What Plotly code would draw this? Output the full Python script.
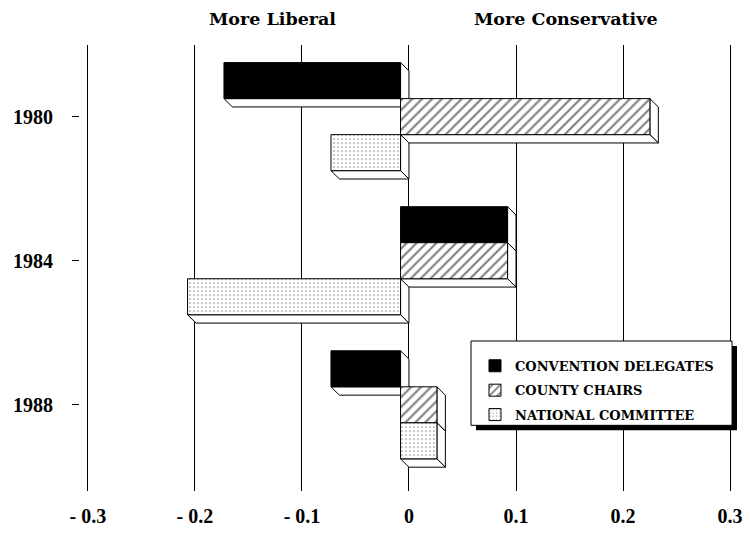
import plotly.graph_objects as go

# ---------------- data ----------------
years = ["1980", "1984", "1988"]
series_names = ["CONVENTION DELEGATES", "COUNTY CHAIRS", "NATIONAL COMMITTEE"]
conv_delegates = [-0.165, 0.100, -0.065]
county_chairs = [0.233, 0.100, 0.034]
national_committee = [-0.065, -0.199, 0.034]
x_ticks = [-0.3, -0.2, -0.1, 0, 0.1, 0.2, 0.3]
x_tick_labels = ["- 0.3", "- 0.2", "- 0.1", "0", "0.1", "0.2", "0.3"]
side_titles = ["More Liberal", "More Conservative"]

# ---------------- geometry ----------------
W, H = 750, 535
ML, MR, MT, MB = 80, 8, 45, 35
PW, PH = W - ML - MR, H - MT - MB
X_RANGE = [-0.3074, 0.3065]
Y_RANGE = [2.598, -0.497]
PXX = PW / (X_RANGE[1] - X_RANGE[0])
PYY = PH / (Y_RANGE[0] - Y_RANGE[1])
DEPTH = 8.5
dx = DEPTH / PXX
dy = DEPTH / PYY
BW = 0.25

serif = "Liberation Serif"
wide_serif = "DejaVu Serif"

styles = [
    dict(color="black", pattern=dict(shape="")),
    dict(color="white", pattern=dict(shape="/", fgcolor="black", bgcolor="white", size=7, solidity=0.3)),
    dict(color="white", pattern=dict(shape=".", fgcolor="#333333", bgcolor="white", size=4, solidity=0.15)),
]
values = [conv_delegates, county_chairs, national_committee]
offsets = [-BW, 0.0, BW]

fig = go.Figure()
shapes = []
for s, (name, vals, off, st) in enumerate(zip(series_names, values, offsets, styles)):
    ys = [i + off for i in range(len(years))]
    fig.add_trace(go.Bar(
        y=ys, x=vals, base=[-dx] * len(vals), orientation="h", width=BW,
        name=name, legendgroup=name,
        marker=dict(color=st["color"], pattern=st["pattern"],
                    line=dict(color="black", width=1)),
        hoverinfo="skip",
    ))
    for yc, v in zip(ys, vals):
        a, b = min(-dx, v - dx), max(-dx, v - dx)
        top, bot = yc - BW / 2, yc + BW / 2
        right = f"M{b},{top} L{b+dx},{top+dy} L{b+dx},{bot+dy} L{b},{bot} Z"
        bottom = f"M{a},{bot} L{b},{bot} L{b+dx},{bot+dy} L{a+dx},{bot+dy} Z"
        for p in (right, bottom):
            shapes.append(dict(type="path", path=p, xref="x", yref="y",
                               fillcolor="white", line=dict(color="black", width=1),
                               layer="between"))

# legend box with drop shadow (paper coords)
def px_to_paper_x(px):
    return (px - ML) / PW

def px_to_paper_y(py):
    return (H - MB - py) / PH

shapes.append(dict(type="rect", xref="paper", yref="paper",
                   x0=px_to_paper_x(479), x1=px_to_paper_x(742),
                   y0=px_to_paper_y(438), y1=px_to_paper_y(352),
                   fillcolor="black", line=dict(width=0), layer="above"))
shapes.append(dict(type="rect", xref="paper", yref="paper",
                   x0=px_to_paper_x(474), x1=px_to_paper_x(737),
                   y0=px_to_paper_y(433), y1=px_to_paper_y(347),
                   fillcolor="white", line=dict(color="black", width=1), layer="above"))

annotations = []
for txt, xc in zip(side_titles, [-0.128, 0.147]):
    annotations.append(dict(text=txt, x=xc, xref="x", y=px_to_paper_y(18), yref="paper",
                            showarrow=False, xanchor="center", yanchor="middle",
                            font=dict(family=wide_serif, size=17.5, color="black", weight="bold")))

fig.update_layout(
    width=W, height=H,
    margin=dict(l=ML, r=MR, t=MT, b=MB, pad=0),
    plot_bgcolor="white", paper_bgcolor="white",
    barmode="overlay",
    shapes=shapes, annotations=annotations,
    showlegend=True,
    legend=dict(x=px_to_paper_x(478), xanchor="left", y=px_to_paper_y(357), yanchor="top",
                bgcolor="rgba(0,0,0,0)", borderwidth=0, tracegroupgap=4.5,
                traceorder="grouped",
                font=dict(family=wide_serif, size=13, color="black", weight="bold")),
    xaxis=dict(range=X_RANGE, tickvals=x_ticks, ticktext=x_tick_labels,
               showgrid=True, gridcolor="black", gridwidth=1, zeroline=False,
               showline=False, ticks="", ticklabelstandoff=11,
               tickfont=dict(family=serif, size=20, color="black", weight="bold")),
    yaxis=dict(range=Y_RANGE, tickvals=list(range(len(years))), ticktext=years,
               showgrid=False, zeroline=False, showline=False,
               ticks="outside", ticklen=7, tickcolor="black", tickwidth=1,
               ticklabelstandoff=15,
               tickfont=dict(family=serif, size=20, color="black", weight="bold")),
)

fig.write_html("out.html", config={"displayModeBar": False},
               post_script="document.body.style.margin='0';")
